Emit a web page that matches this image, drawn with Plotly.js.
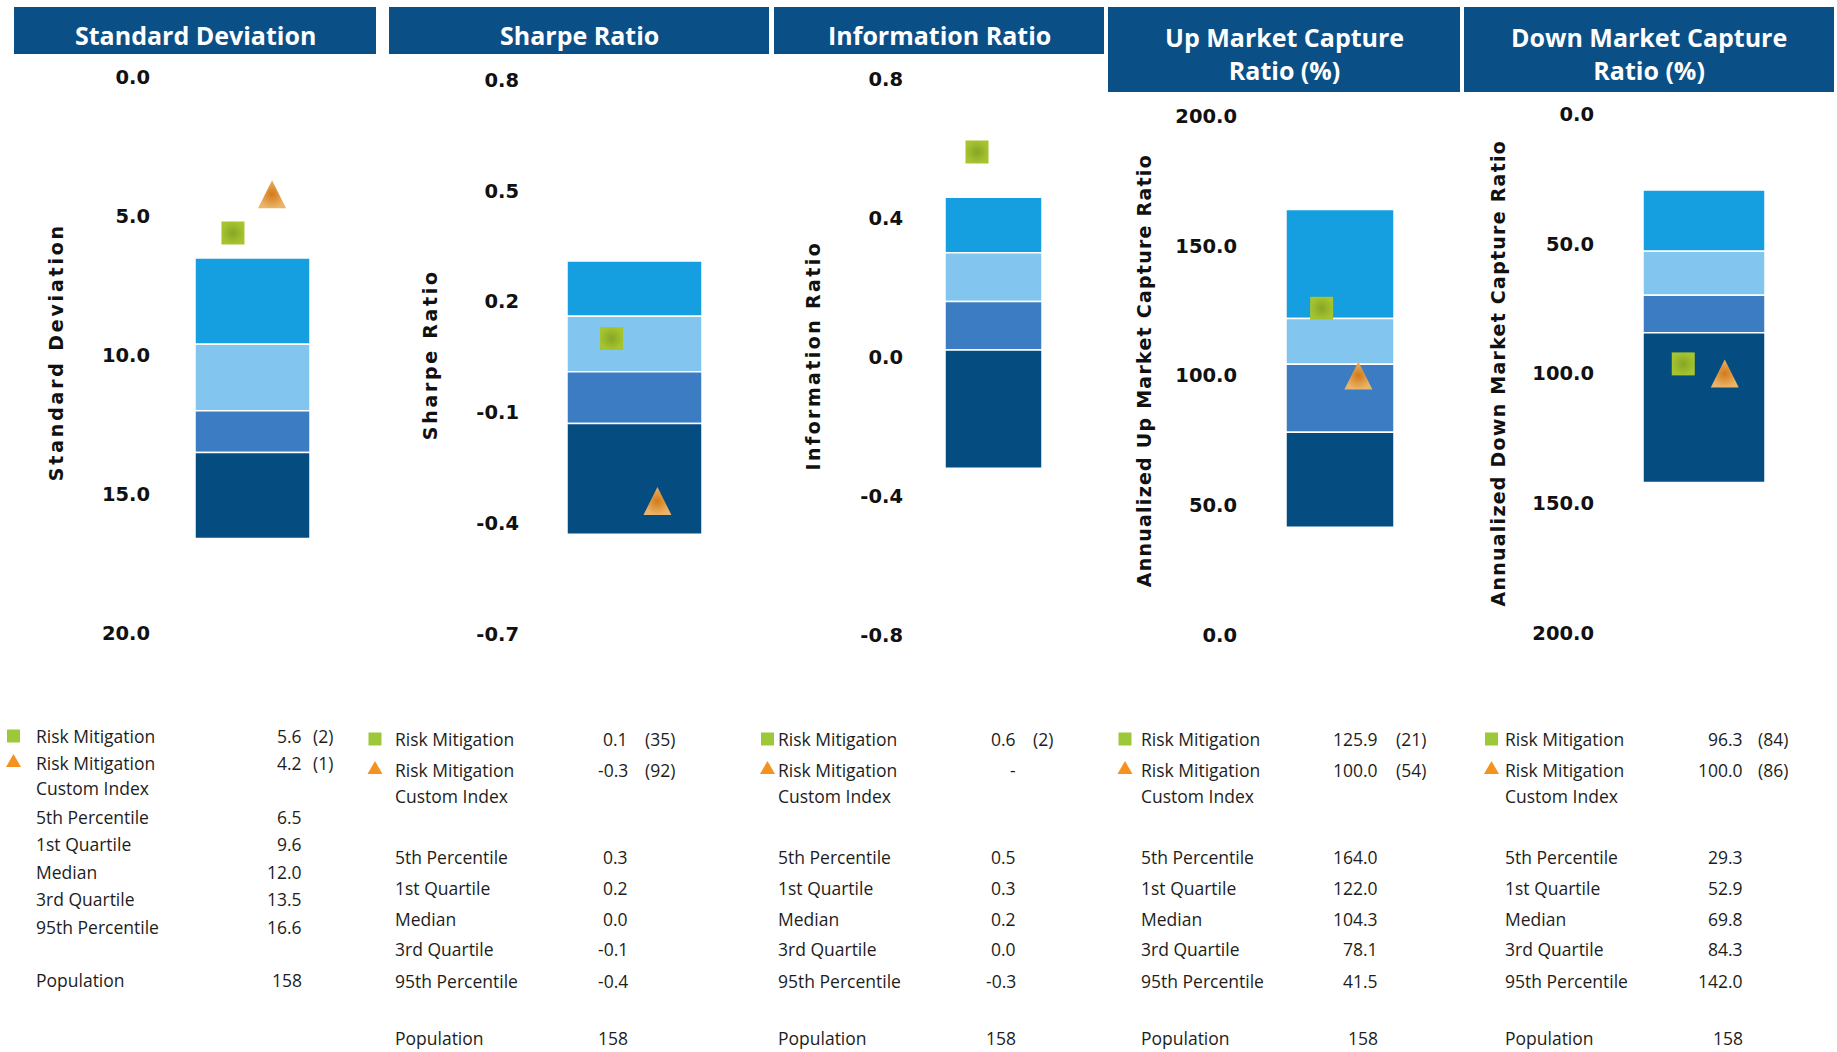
<!DOCTYPE html>
<html>
<head>
<meta charset="utf-8">
<script src="https://cdn.plot.ly/plotly-3.0.1.min.js"></script>
<style>
html,body{margin:0;padding:0;background:#ffffff;}
#chart{width:1837px;height:1052px;}
</style>
</head>
<body>
<div id="chart"></div>
<script>
// ---------------- data ----------------
const panelTitles = ["Standard Deviation", "Sharpe Ratio", "Information Ratio", "Up Market Capture<br>Ratio (%)", "Down Market Capture<br>Ratio (%)"];
const axisTitles = ["Standard Deviation", "Sharpe Ratio", "Information Ratio", "Annualized Up Market Capture Ratio", "Annualized Down Market Capture Ratio"];
const pct5   = [6.5, 0.31, 0.46, 164.0, 29.3];
const quart1 = [9.6, 0.16, 0.30, 122.0, 52.9];
const median = [12.0, 0.01, 0.16, 104.3, 69.8];
const quart3 = [13.5, -0.13, 0.02, 78.1, 84.3];
const pct95  = [16.6, -0.43, -0.32, 41.5, 142.0];
const riskMitigation     = [5.6, 0.1, 0.59, 125.9, 96.3];
const riskMitigationRank = [2, 35, 2, 21, 84];
const customIndex        = [4.2, -0.34, null, 100.0, 100.0];
const customIndexRank    = [1, 92, null, 54, 86];
const population = [158, 158, 158, 158, 158];
const axisRanges = [[20, 0], [-0.7, 0.8], [-0.8, 0.8], [0, 200], [200, 0]];
const tickVals = [[0, 5, 10, 15, 20], [0.8, 0.5, 0.2, -0.1, -0.4, -0.7], [0.8, 0.4, 0, -0.4, -0.8], [200, 150, 100, 50, 0], [0, 50, 100, 150, 200]];
const tickText = [["0.0", "5.0", "10.0", "15.0", "20.0"], ["0.8", "0.5", "0.2", "-0.1", "-0.4", "-0.7"], ["0.8", "0.4", "0.0", "-0.4", "-0.8"], ["200.0", "150.0", "100.0", "50.0", "0.0"], ["0.0", "50.0", "100.0", "150.0", "200.0"]];
const seriesNames = ["Risk Mitigation", "Risk Mitigation", "Custom Index"];
const rowLabels = ["5th Percentile", "1st Quartile", "Median", "3rd Quartile", "95th Percentile"];
const populationLabel = "Population";

// ---------------- style / layout geometry (pixels) ----------------
const W = 1837, H = 1052;
const segColors = ["#159ee0", "#82c6f0", "#3c7cc2", "#054c80"];
const headerColor = "#0b4f87";
const geo = [
  {L:151,  R:376,  c:252.5,  w:115, top:77.5, bot:633, hx:[14,376],    hy:54, ht:35, titleX:56,   titleY:352, tx:34,   vx:304,  rx:311,  ix:13.5,  rows:[736,763,788,817,844,872,899,927,980],    ls:2.8},
  {L:520,  R:769,  c:634.5,  w:135, top:80,   bot:634, hx:[389,769],   hy:54, ht:35, titleX:430,  titleY:355, tx:393,  vx:630,  rx:643,  ix:375,   rows:[739,770,796,857,888,919,949,981,1038], ls:2.7},
  {L:904,  R:1104, c:993.5,  w:97,  top:79,   bot:635, hx:[774,1104],  hy:54, ht:35, titleX:813,  titleY:356, tx:776,  vx:1018, rx:1031, ix:767.5, rows:[739,770,796,857,888,919,949,981,1038], ls:2.4},
  {L:1238, R:1460, c:1340,   w:108, top:116,  bot:635, hx:[1108,1460], hy:92, ht:53, titleX:1144, titleY:371, tx:1139, vx:1380, rx:1394, ix:1125,  rows:[739,770,796,857,888,919,949,981,1038], ls:1.25},
  {L:1595, R:1834, c:1704,   w:122, top:114,  bot:633, hx:[1464,1834], hy:92, ht:53, titleX:1498, titleY:373, tx:1503, vx:1745, rx:1756, ix:1491.5,rows:[739,770,796,857,888,919,949,981,1038], ls:1.25}
];
const markerOffset = 0.17;
const px = v => v / W;
const py = v => 1 - v / H;

const traces = [];
const layout = {
  width: W, height: H,
  margin: {l:0, r:0, t:0, b:0},
  paper_bgcolor: "#ffffff",
  plot_bgcolor: "rgba(0,0,0,0)",
  showlegend: false,
  font: {family: "Open Sans, sans-serif", color: "#1d1d1d"},
  shapes: [],
  annotations: []
};

const tableFont = {family: "Open Sans, sans-serif", size: 17.5, color: "#1d1d1d"};
const triSize = 28;

for (let i = 0; i < 5; i++) {
  const g = geo[i];
  const k = i === 0 ? "" : String(i + 1);
  const lows = [pct5[i], quart1[i], median[i], quart3[i]];
  const highs = [quart1[i], median[i], quart3[i], pct95[i]];

  traces.push({
    type: "bar", xaxis: "x" + k, yaxis: "y" + k,
    x: [0, 0, 0, 0], base: lows, y: highs.map((h, j) => h - lows[j]),
    width: [1, 1, 1, 1],
    marker: {color: segColors, line: {color: "#ffffff", width: 1.5}},
    hoverinfo: "skip"
  });
  traces.push({
    type: "scatter", mode: "markers", xaxis: "x" + k, yaxis: "y" + k,
    x: [-markerOffset], y: [riskMitigation[i]],
    marker: {symbol: "square", size: 23, color: "#a6c42e", gradient: {type: "radial", color: "#86a626"}, line: {width: 0}},
    hoverinfo: "skip"
  });
  if (customIndex[i] !== null) {
    // equilateral-looking triangle: arrow-down rotated 180deg, pushed back by half its size so it is centred on the value
    traces.push({
      type: "scatter", mode: "markers", xaxis: "x" + k, yaxis: "y" + k,
      x: [markerOffset], y: [customIndex[i]],
      marker: {symbol: "arrow-down", angle: 180, standoff: triSize / 2, size: triSize, color: "#ebb468", gradient: {type: "radial", color: "#d27a18"}, line: {width: 0}},
      hoverinfo: "skip"
    });
  }

  layout["xaxis" + k] = {
    domain: [px(g.L), px(g.R)],
    range: [(g.L - g.c) / g.w, (g.R - g.c) / g.w],
    visible: false, fixedrange: true, anchor: "y" + k
  };
  layout["yaxis" + k] = {
    domain: [py(g.bot), py(g.top)],
    range: axisRanges[i],
    tickmode: "array", tickvals: tickVals[i], ticktext: tickText[i],
    ticks: "", showgrid: false, zeroline: false, showline: false,
    tickfont: {family: "DejaVu Sans, sans-serif", size: 19.5, color: "#111111", weight: "bold"},
    fixedrange: true, anchor: "x" + k
  };

  // header
  layout.shapes.push({type: "rect", xref: "paper", yref: "paper", x0: px(g.hx[0]), x1: px(g.hx[1]), y0: py(g.hy), y1: py(7), fillcolor: headerColor, line: {width: 0}, layer: "below"});
  layout.annotations.push({xref: "paper", yref: "paper", x: px((g.hx[0] + g.hx[1]) / 2), y: py(g.ht), xanchor: "center", yanchor: "middle",
    text: panelTitles[i], showarrow: false, font: {family: "Open Sans, sans-serif", size: 25, color: "#ffffff", weight: "bold"}});

  // axis title
  layout.annotations.push({xref: "paper", yref: "paper", x: px(g.titleX), y: py(g.titleY), xanchor: "center", yanchor: "middle",
    text: axisTitles[i], textangle: -90, showarrow: false, font: {family: "DejaVu Sans, sans-serif", size: 19, color: "#111111", weight: "bold"}});

  // table
  const r = g.rows;
  const labels = seriesNames.concat(rowLabels).concat([populationLabel]);
  labels.forEach((t, j) => {
    layout.annotations.push({xref: "paper", yref: "paper", x: px(g.tx), y: py(r[j]), xanchor: "left", yanchor: "middle", text: t, showarrow: false, font: tableFont});
  });
  const vals = [
    riskMitigation[i].toFixed(1),
    customIndex[i] === null ? "-" : customIndex[i].toFixed(1),
    "",
    pct5[i].toFixed(1), quart1[i].toFixed(1), median[i].toFixed(1), quart3[i].toFixed(1), pct95[i].toFixed(1),
    String(population[i])
  ];
  vals.forEach((t, j) => {
    if (t === "") return;
    layout.annotations.push({xref: "paper", yref: "paper", x: px(g.vx), y: py(r[j]), xanchor: "right", yanchor: "middle", text: t, showarrow: false, font: tableFont});
  });
  const ranks = [riskMitigationRank[i], customIndexRank[i]];
  ranks.forEach((rk, j) => {
    if (rk === null) return;
    layout.annotations.push({xref: "paper", yref: "paper", x: px(g.rx), y: py(r[j]), xanchor: "left", yanchor: "middle", text: "(" + rk + ")", showarrow: false, font: tableFont});
  });
  // legend icons
  const s = 6.5;
  layout.shapes.push({type: "rect", xref: "paper", yref: "paper", x0: px(g.ix - s), x1: px(g.ix + s), y0: py(r[0] + s), y1: py(r[0] - s), fillcolor: "#9dc83a", line: {width: 0}});
  const ty = r[1] - 2;
  layout.shapes.push({type: "path", xref: "paper", yref: "paper",
    path: "M " + px(g.ix - 7.5) + " " + py(ty + 6) + " L " + px(g.ix + 7.5) + " " + py(ty + 6) + " L " + px(g.ix) + " " + py(ty - 7) + " Z",
    fillcolor: "#f5911e", line: {width: 0}});
}

Plotly.newPlot("chart", traces, layout, {displayModeBar: false, staticPlot: true}).then(() => {
  document.querySelectorAll("g.annotation text.annotation-text").forEach(t => {
    const tr = t.closest("g.annotation-text-g");
    const rot = tr && tr.getAttribute("transform") && tr.getAttribute("transform").indexOf("rotate(-90") >= 0;
    const idx = axisTitles.indexOf(t.textContent);
    if (rot && idx >= 0) t.style.letterSpacing = geo[idx].ls + "px";
  });
});
</script>
</body>
</html>
